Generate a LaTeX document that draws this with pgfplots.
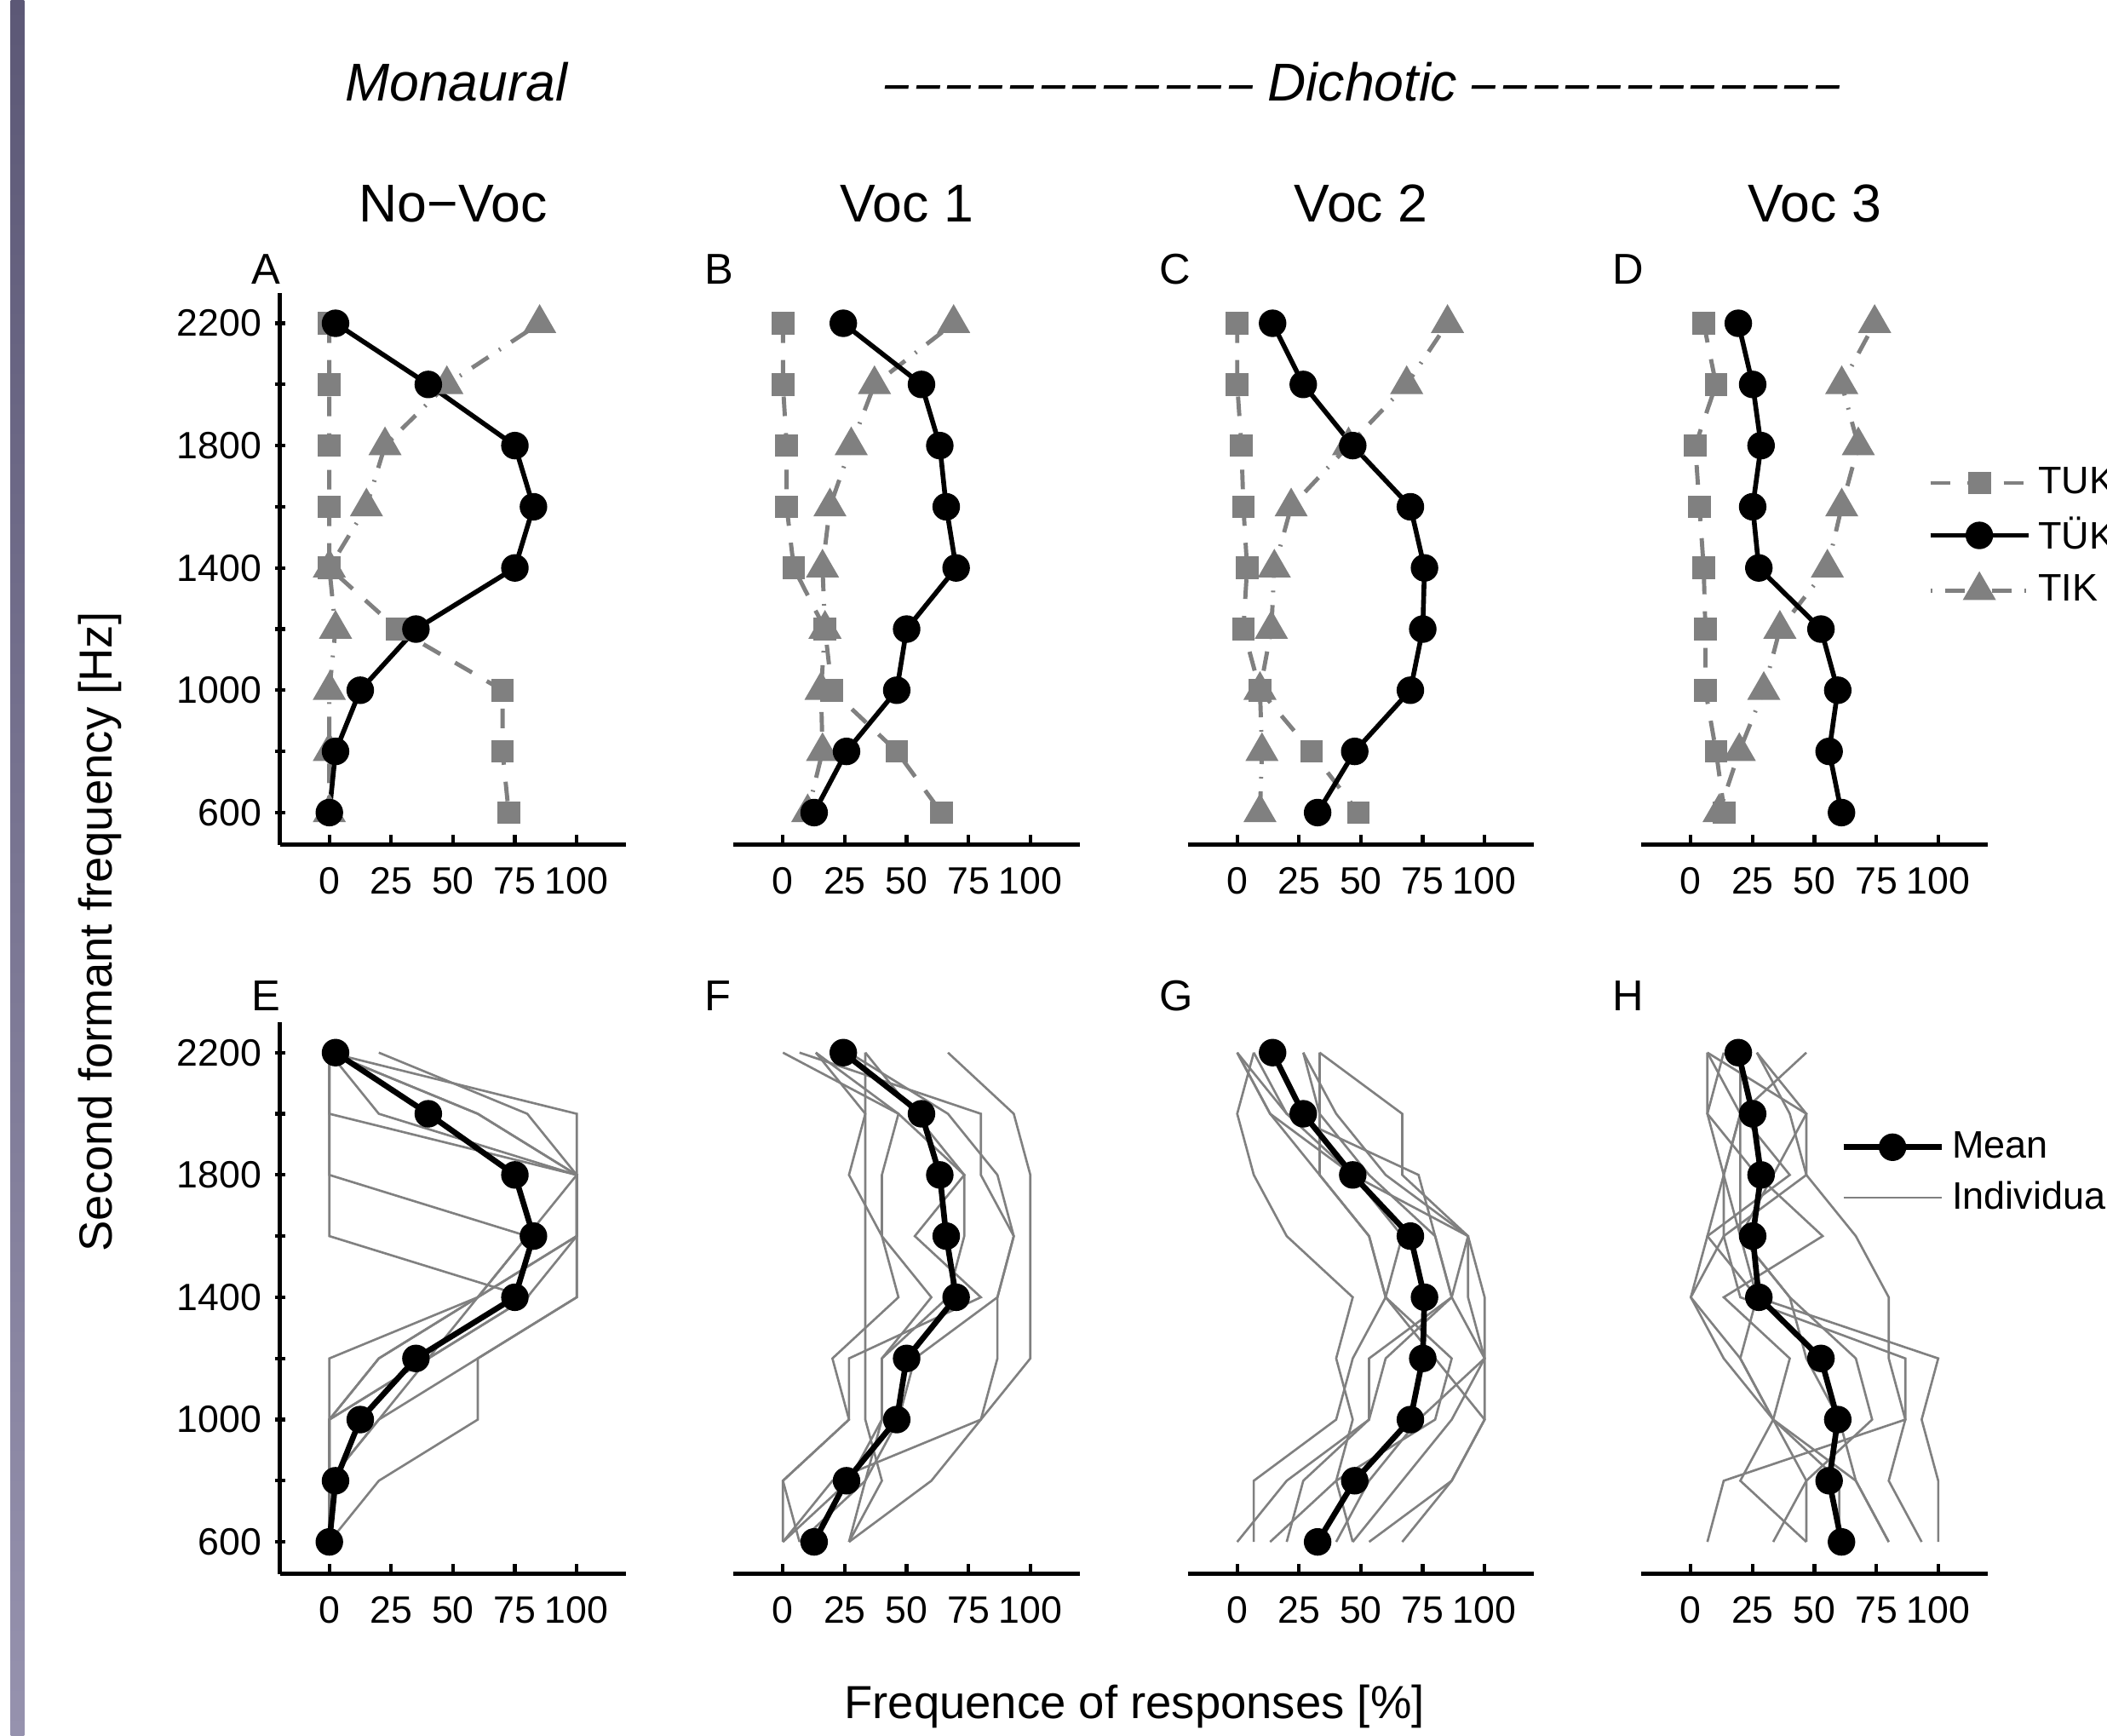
\documentclass[border=0pt]{standalone}
\usepackage{fontspec}
\setmainfont{Liberation Sans}
\usepackage{graphicx}
\usepackage{pgfplots}
\pgfplotsset{compat=1.18}
\usepackage{pgfplotstable}

\definecolor{mgray}{RGB}{128,128,128}
\definecolor{barTop}{RGB}{92,88,118}
\definecolor{barBot}{RGB}{150,146,174}

% one slanted dash of the "Dichotic" heading
\newcommand{\dd}{\scalebox{0.8}[1]{–}\hspace{0.089cm}}
\newcommand{\ddline}{\dd\dd\dd\dd\dd\dd\dd\dd\dd\dd\dd\scalebox{0.8}[1]{–}}

% columns: y, TUK, TÜK (= mean), TIK, individual listeners s1..
\pgfplotstableread{
y    tuk  tuek tik  s1 s2  s3  s4  s5  s6  s7 s8
2200 0    2.5  85   0  0   20  0   0   0   0  0
2000 0    40   47.5 0  0   80  60  100 20  0  60
1800 0    75   22.5 0  100 100 100 100 100 0  100
1600 0    82.5 15   0  100 100 100 100 80  80 100
1400 0    75   0    80 100 100 80  60  60  60 60
1200 27.5 35   2.5  40 60  60  40  20  40  0  20
1000 70   12.5 0    0  60  20  20  0   0   0  0
800  70   2.5  0    0  20  0   0   0   0   0  0
600  72.5 0    0    0  0   0   0   0   0   0  0
}\tabA

\pgfplotstableread{
y    tuk  tuek tik  s1   s2   s3   s4   s5   s6   s7   s8
2200 0    24.4 69   66.7 6.7  0    13.3 33.3 26.7 13.3 33.3
2000 0    56   37   93.3 80   46.7 33.3 33.3 66.7 46.7 53.3
1800 1.5  63.4 27.6 100  80   73.3 26.7 33.3 86.7 40   73.3
1600 1.5  66   19   100  93.3 73.3 40   33.3 93.3 40   53.3
1400 4.4  70   16   100  86.7 66.7 46.7 33.3 86.7 60   80
1200 17   50   17   100  86.7 40   20   33.3 53.3 40   26.7
1000 19.8 46   15.4 80   80   40   26.7 33.3 46.7 40   26.7
800  46   25.7 16   60   20   33.3 0    40   33.3 26.7 0
600  64   12.6 10   26.7 0    6.7  0    26.7 26.7 0    6.7
}\tabB

\pgfplotstableread{
y    tuk  tuek tik  s1   s2   s3   s4   s5   s6   s7   s8   s9
2200 0    14.3 85   6.7  0    33.3 26.7 33.3 0    26.7 6.7  0
2000 0    26.7 68.5 0    13.3 33.3 40   66.7 13.3 33.3 20   20
1800 1.7  46.7 45   6.7  33.3 33.3 60   66.7 46.7 53.3 46.7 73.3
1600 2.5  70   21.8 20   53.3 53.3 93.3 93.3 93.3 80   66.7 80
1400 4    75.7 15   46.7 60   60   93.3 86.7 100  86.7 60   86.7
1200 2.5  75   13.8 40   80   86.7 100  100  100  53.3 46.7 60
1000 9.2  70   9.2  46.7 100  80   86.7 100  73.3 53.3 40   53.3
800  30   47.5 10   40   86.7 40   66.7 86.7 53.3 20   6.7  26.7
600  49   32.5 9.2  46.7 66.7 13.3 46.7 53.3 40   0    6.7  20
}\tabC

\pgfplotstableread{
y    tuk  tuek tik  s1   s2   s3   s4   s5   s6   s7   s8   s9
2200 5.2  19.2 74.3 6.7  26.7 20   13.3 46.7 26.7 6.7  20   6.7
2000 10.2 25   61   20   46.7 20   6.7  20   40   46.7 20   6.7
1800 1.8  28.4 67.7 40   46.7 20   13.3 13.3 46.7 33.3 13.3 26.7
1600 3.5  25   61   6.7  66.7 20   13.3 20   13.3 20   6.7  53.3
1400 5.2  27.5 55.2 0    80   26.7 20   40   0    40   26.7 13.3
1200 5.9  52.6 36   13.3 80   100  86.7 66.7 20   46.7 20   40
1000 5.9  59.4 29.5 33.3 86.7 93.3 86.7 73.3 33.3 60   33.3 33.3
800  10.2 55.9 19.6 66.7 80   100  13.3 46.7 46.7 66.7 20   60
600  13.6 60.9 11.4 80   93.3 100  6.7  33.3 46.7 80   46.7 60
}\tabD

\pgfplotsset{
  panel/.style={
    scale only axis, width=4.067cm, height=6.48cm,
    xmin=-20, xmax=120, ymin=495, ymax=2300,
    axis x line=bottom,
    axis line style={-, line width=1.4pt, black},
    xtick={0,25,50,75,100},
    tick align=inside,
    major tick length=0.12cm, minor tick length=0.12cm,
    tick style={line width=1.2pt, black},
    /pgf/number format/assume math mode=true,
    /pgf/number format/1000 sep={},
    tick label style={font=\fontsize{12.7}{15}\selectfont, inner sep=0pt},
    xticklabel style={yshift=-0.26cm},
    yticklabel style={xshift=-0.15cm},
    legend image code/.code={\draw[mark repeat=2,mark phase=2,##1] plot coordinates {(0cm,0cm) (0.575cm,0cm) (1.15cm,0cm)};},
    legend cell align=left,
    anchor=south west,
  },
  firstcol/.style={axis y line=left,
    y axis line style={-},
    every outer y axis line/.append style={-},
    every inner y axis line/.append style={-},
    ytick={600,1000,1400,1800,2200}, minor ytick={800,1200,1600,2000}},
  othercol/.style={hide y axis},
  tuk/.style={mgray, line width=1.4pt, dash pattern=on 0.23cm off 0.2cm,
    mark=square*, mark size=3.6pt, mark options={solid, line width=0.4pt, fill=mgray}},
  tuek/.style={black, line width=1.6pt,
    mark=*, mark size=4.4pt, mark options={solid, line width=0.4pt, fill=black}},
  tik/.style={mgray, line width=1.4pt, dash pattern=on 0.02cm off 0.15cm on 0.23cm off 0.15cm,
    mark=triangle*, mark size=6pt, mark options={solid, line width=0.4pt, fill=mgray}},
  indiv/.style={mgray, line width=0.75pt, no markers},
  mean/.style={black, line width=1.9pt,
    mark=*, mark size=4.4pt, mark options={solid, line width=0.4pt, fill=black}},
}

\begin{document}
\begin{tikzpicture}
\path[use as bounding box] (0,0) rectangle (24.74cm,-20.37cm);
\clip (0,0) rectangle (24.74cm,-20.37cm);
\shade[top color=barTop, bottom color=barBot] (0.126cm,0) rectangle (0.284cm,-20.37cm);

% headings
\node[anchor=base, font=\fontsize{17.8}{20}\selectfont\itshape] at (5.357cm,-1.183cm) {Monaural};
\node[anchor=base, font=\fontsize{17.8}{20}\selectfont\itshape] at (16.0cm,-1.183cm) {\ddline\ Dichotic \ddline};
\node[anchor=base, font=\fontsize{17.8}{20}\selectfont] at (5.32cm,-2.604cm) {No−Voc};
\node[anchor=base, font=\fontsize{17.8}{20}\selectfont] at (10.646cm,-2.604cm) {Voc 1};
\node[anchor=base, font=\fontsize{17.8}{20}\selectfont] at (15.98cm,-2.604cm) {Voc 2};
\node[anchor=base, font=\fontsize{17.8}{20}\selectfont] at (21.306cm,-2.604cm) {Voc 3};

% panel letters
\foreach \L/\x in {A/3.286, B/8.612, C/13.946, D/19.272} {
  \node[anchor=base west, inner sep=0pt, font=\fontsize{14.4}{16}\selectfont] at (\x cm-0.34cm,-3.33cm) {\L};
}
\foreach \L/\x in {E/3.286, F/8.612, G/13.946, H/19.272} {
  \node[anchor=base west, inner sep=0pt, font=\fontsize{14.4}{16}\selectfont] at (\x cm-0.34cm,-11.867cm) {\L};
}

\node[rotate=90, anchor=base, font=\fontsize{15.5}{18}\selectfont] at (1.31cm,-10.94cm) {Second formant frequency [Hz]};
\node[anchor=base, font=\fontsize{15.5}{18}\selectfont] at (13.32cm,-20.17cm) {Frequence of responses [\%]};

% ---- top row: mean responses per category
\begin{axis}[panel, firstcol, at={(3.286cm,-9.916cm)}]
\addplot[tuk] table[x=tuk,y=y]{\tabA};
\addplot[tik] table[x=tik,y=y]{\tabA};
\addplot[tuek] table[x=tuek,y=y]{\tabA};
\end{axis}

\begin{axis}[panel, othercol, at={(8.612cm,-9.916cm)}]
\addplot[tuk] table[x=tuk,y=y]{\tabB};
\addplot[tik] table[x=tik,y=y]{\tabB};
\addplot[tuek] table[x=tuek,y=y]{\tabB};
\end{axis}

\begin{axis}[panel, othercol, at={(13.946cm,-9.916cm)}]
\addplot[tuk] table[x=tuk,y=y]{\tabC};
\addplot[tik] table[x=tik,y=y]{\tabC};
\addplot[tuek] table[x=tuek,y=y]{\tabC};
\end{axis}

\begin{axis}[panel, othercol, at={(19.272cm,-9.916cm)}, clip=false,
  legend style={draw=none, fill=none, at={(0.80,0.558)}, anchor=west,
    font=\fontsize{12.8}{15}\selectfont, row sep=0.22cm, column sep=0.09cm,
    nodes={inner sep=0pt}}]
\addlegendimage{tuk}\addlegendentry{TUK}
\addlegendimage{tuek}\addlegendentry{TÜK}
\addlegendimage{tik}\addlegendentry{TIK}
\addplot[tuk, forget plot] table[x=tuk,y=y]{\tabD};
\addplot[tik, forget plot] table[x=tik,y=y]{\tabD};
\addplot[tuek, forget plot] table[x=tuek,y=y]{\tabD};
\end{axis}

% ---- bottom row: mean TÜK and individual listeners
\begin{axis}[panel, firstcol, at={(3.286cm,-18.478cm)}]
\pgfplotsinvokeforeach{1,...,8}{\addplot[indiv] table[x=s#1,y=y]{\tabA};}
\addplot[mean] table[x=tuek,y=y]{\tabA};
\end{axis}

\begin{axis}[panel, othercol, at={(8.612cm,-18.478cm)}]
\pgfplotsinvokeforeach{1,...,8}{\addplot[indiv] table[x=s#1,y=y]{\tabB};}
\addplot[mean] table[x=tuek,y=y]{\tabB};
\end{axis}

\begin{axis}[panel, othercol, at={(13.946cm,-18.478cm)}]
\pgfplotsinvokeforeach{1,...,9}{\addplot[indiv] table[x=s#1,y=y]{\tabC};}
\addplot[mean] table[x=tuek,y=y]{\tabC};
\end{axis}

\begin{axis}[panel, othercol, at={(19.272cm,-18.478cm)}, clip=false,
  legend style={draw=none, fill=none, at={(0.548,0.727)}, anchor=west,
    font=\fontsize{12.8}{15}\selectfont, row sep=0.22cm, column sep=0.09cm,
    nodes={inner sep=0pt}}]
\addlegendimage{mean}\addlegendentry{Mean}
\addlegendimage{indiv}\addlegendentry{Individual}
\pgfplotsinvokeforeach{1,...,9}{\addplot[indiv, forget plot] table[x=s#1,y=y]{\tabD};}
\addplot[mean, forget plot] table[x=tuek,y=y]{\tabD};
\end{axis}
\end{tikzpicture}
\end{document}
